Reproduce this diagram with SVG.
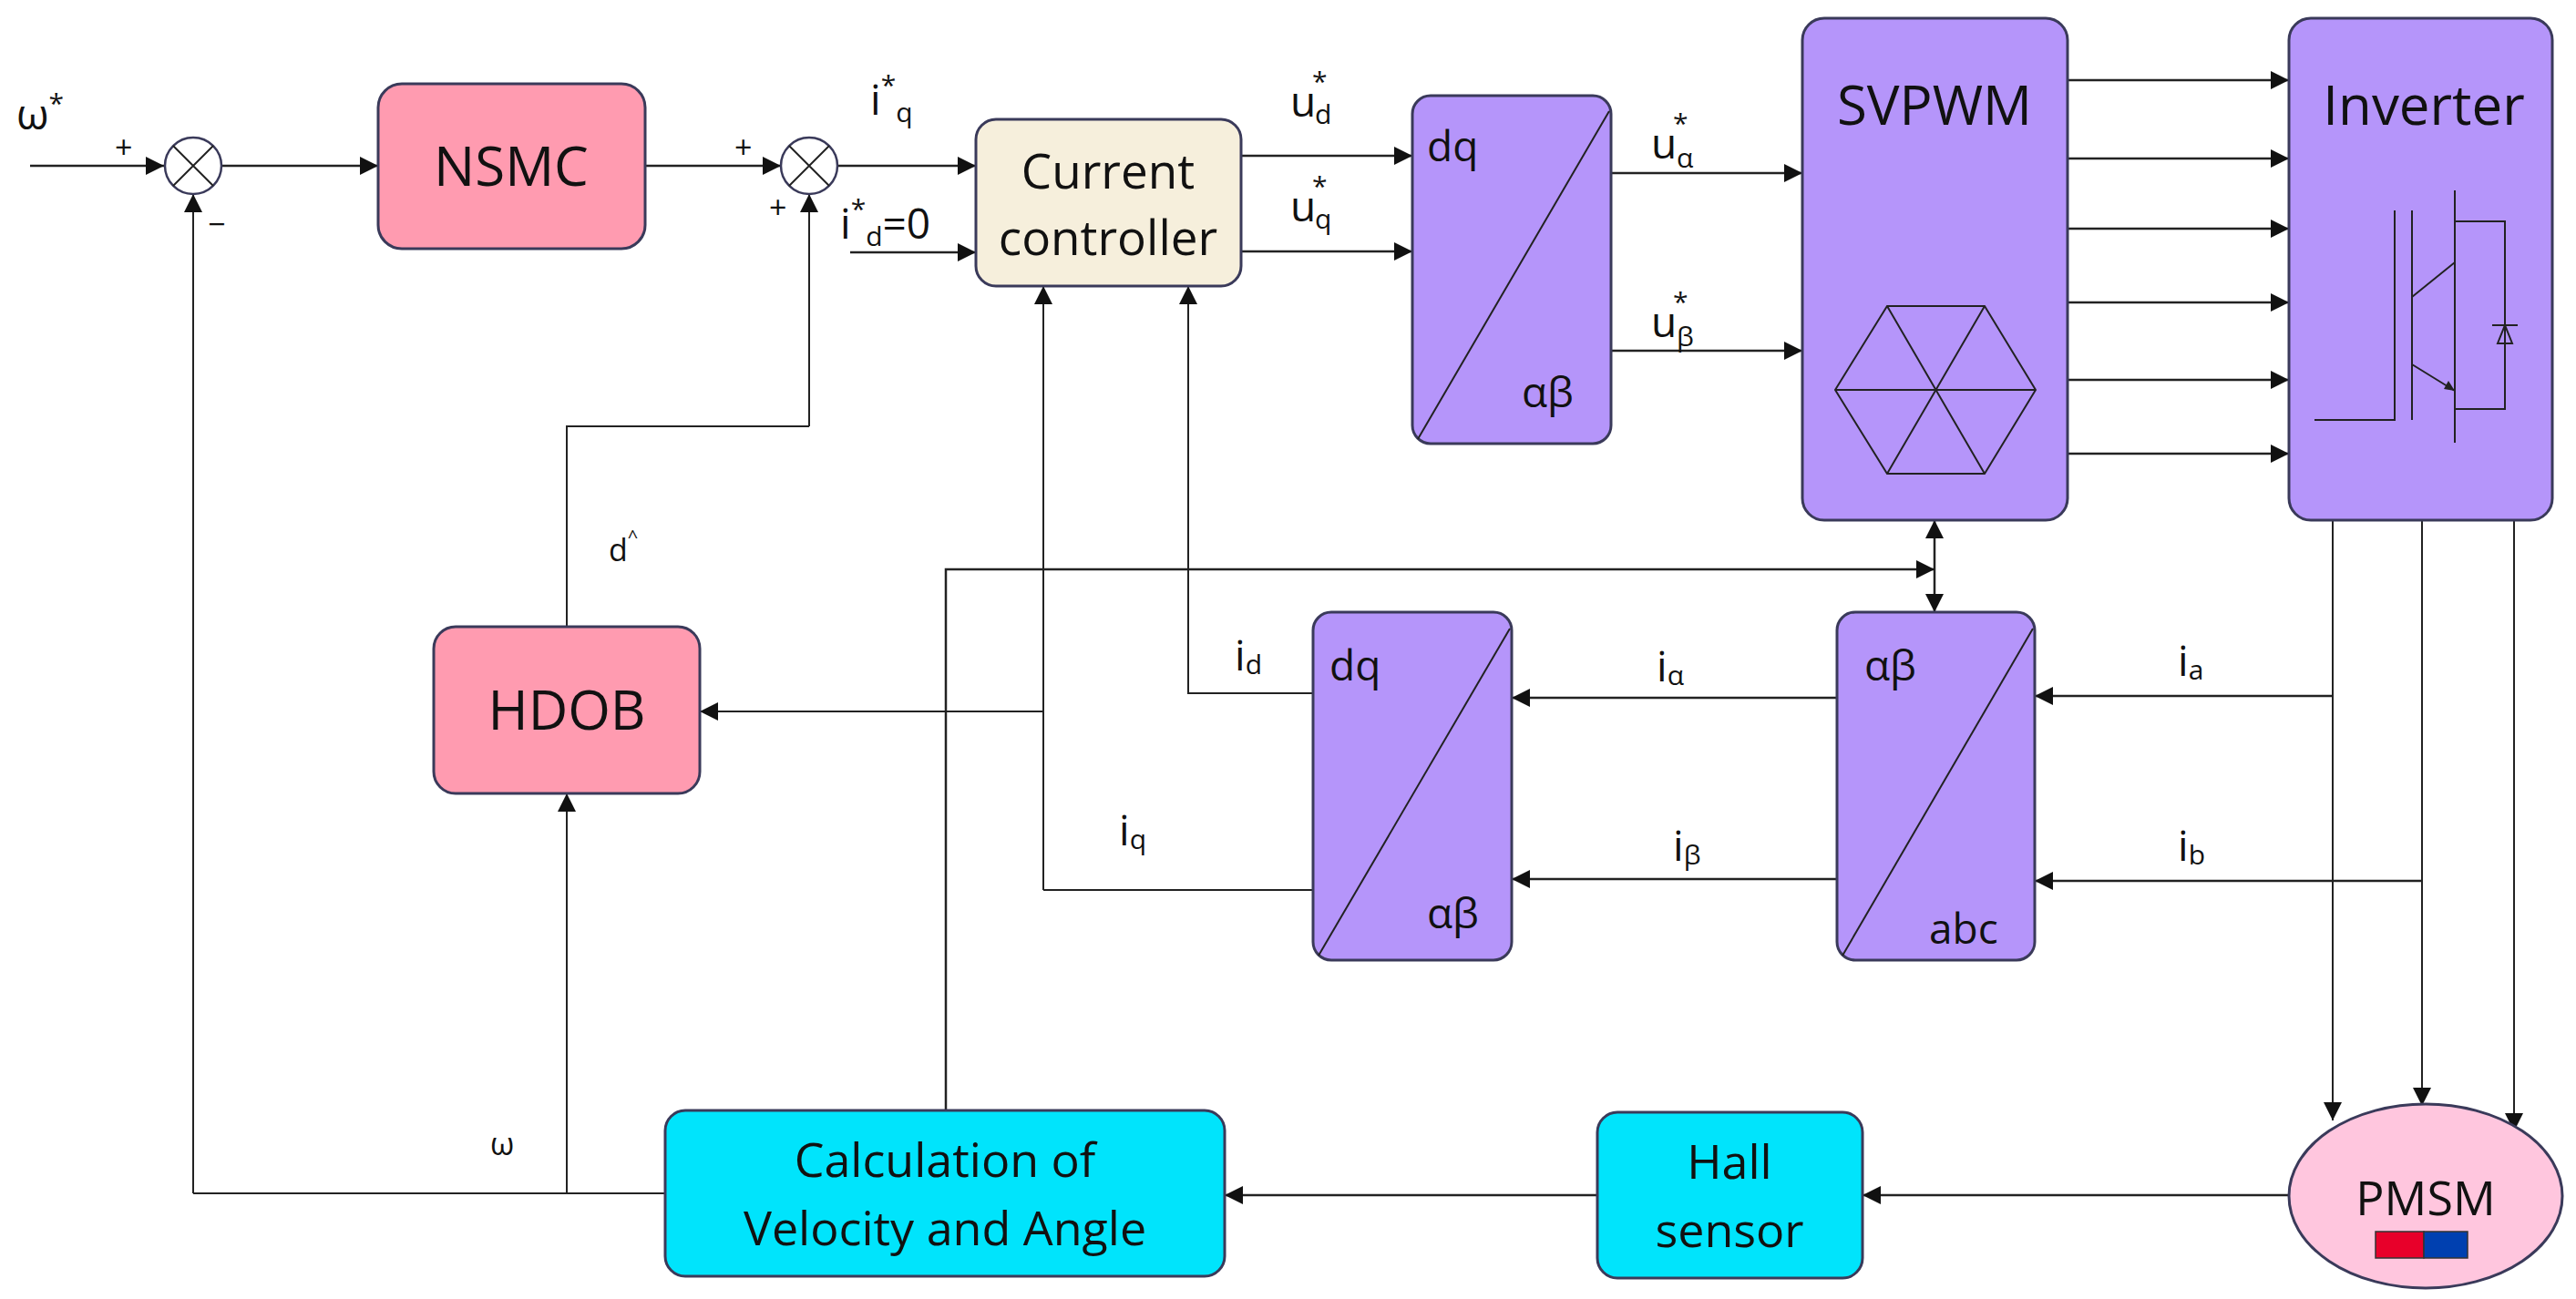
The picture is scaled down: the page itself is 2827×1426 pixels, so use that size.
<svg xmlns="http://www.w3.org/2000/svg" width="2827" height="1426" viewBox="0 0 2827 1426">
<style>
.box{stroke:#3a3a5a;stroke-width:3}
.pink{fill:#ff9bb0}.beige{fill:#f6efdc}.purple{fill:#b595fa}.cyan{fill:#00e4fc}
.ln{fill:none;stroke:#222;stroke-width:2.5}
.thin{fill:none;stroke:#222;stroke-width:2}
text{font-family:"Open Sans","Liberation Sans",sans-serif;fill:#111}
.big{font-size:60px;text-anchor:middle}
.cc{font-size:53px;text-anchor:middle}
.mid{font-size:52px;text-anchor:middle}
.lab{font-size:46px}
.sub{font-size:30px}
.sm{font-size:34px}
</style>
<defs>
<marker id="arL" viewBox="0 0 10 10" refX="10" refY="5" markerWidth="20" markerHeight="20" markerUnits="userSpaceOnUse" orient="auto"><path d="M0,0L10,5L0,10z" fill="#111"/></marker>
<marker id="arS" viewBox="0 0 10 10" refX="0" refY="5" markerWidth="20" markerHeight="20" markerUnits="userSpaceOnUse" orient="auto"><path d="M10,0L0,5L10,10z" fill="#111"/></marker>
</defs>

<g id="connectors">
<path class="ln" d="M33,182H180" marker-end="url(#arL)"/>
<path class="ln" d="M243,182H415" marker-end="url(#arL)"/>
<path class="ln" d="M708,182H857" marker-end="url(#arL)"/>
<path class="ln" d="M919,182H1071" marker-end="url(#arL)"/>
<path class="ln" d="M933,277H1071" marker-end="url(#arL)"/>
<path class="ln" d="M1362,171H1550" marker-end="url(#arL)"/>
<path class="ln" d="M1362,276H1550" marker-end="url(#arL)"/>
<path class="ln" d="M1768,190H1978" marker-end="url(#arL)"/>
<path class="ln" d="M1768,385H1978" marker-end="url(#arL)"/>
<path class="ln" d="M2269,88H2512" marker-end="url(#arL)"/>
<path class="ln" d="M2269,174H2512" marker-end="url(#arL)"/>
<path class="ln" d="M2269,251H2512" marker-end="url(#arL)"/>
<path class="ln" d="M2269,332H2512" marker-end="url(#arL)"/>
<path class="ln" d="M2269,417H2512" marker-end="url(#arL)"/>
<path class="ln" d="M2269,498H2512" marker-end="url(#arL)"/>
<path class="ln" d="M2123,571V672" marker-start="url(#arS)" marker-end="url(#arL)"/>
<path class="ln" d="M1038,1219V625H2123" marker-end="url(#arL)"/>
<path class="thin" d="M888,468V213" marker-end="url(#arL)"/>
<path class="thin" d="M622,690V468H888"/>
<path class="thin" d="M212,1310V213" marker-end="url(#arL)"/>
<path class="thin" d="M730,1310H212"/>
<path class="thin" d="M622,1310V871" marker-end="url(#arL)"/>
<path class="thin" d="M1145,977V314" marker-end="url(#arL)"/>
<path class="thin" d="M1441,977H1145"/>
<path class="thin" d="M1145,781H768" marker-end="url(#arL)"/>
<path class="thin" d="M1441,761H1304V314" marker-end="url(#arL)"/>
<path class="ln" d="M2016,766H1659" marker-end="url(#arL)"/>
<path class="ln" d="M2016,965H1659" marker-end="url(#arL)"/>
<path class="ln" d="M2560,764H2233" marker-end="url(#arL)"/>
<path class="ln" d="M2658,967H2233" marker-end="url(#arL)"/>
<path class="thin" d="M2560,571V1230" marker-end="url(#arL)"/>
<path class="thin" d="M2658,571V1214" marker-end="url(#arL)"/>
<path class="thin" d="M2759,571V1242" marker-end="url(#arL)"/>
<path class="ln" d="M2512,1312H2044" marker-end="url(#arL)"/>
<path class="ln" d="M1753,1312H1344" marker-end="url(#arL)"/>
</g>

<g id="labels">
<text x="18" y="142" class="lab">ω<tspan class="sub" dy="-18">*</tspan></text>
<text x="126" y="174" class="sm">+</text>
<text x="228" y="258" class="sm">−</text>
<text x="806" y="174" class="sm">+</text>
<text x="844" y="240" class="sm">+</text>
<text x="955" y="126" class="lab">i<tspan class="sub" dy="-22">*</tspan><tspan class="sub" dy="30">q</tspan></text>
<text x="922" y="262" class="lab">i<tspan class="sub" dy="-22">*</tspan><tspan class="sub" dy="30">d</tspan><tspan dy="-8">=0</tspan></text>
<text x="1416" y="128" class="lab">u</text><text x="1440" y="100" class="sub">*</text><text x="1443" y="136" class="sub">d</text>
<text x="1416" y="243" class="lab">u</text><text x="1440" y="215" class="sub">*</text><text x="1443" y="251" class="sub">q</text>
<text x="1812" y="174" class="lab">u</text><text x="1836" y="146" class="sub">*</text><text x="1840" y="184" class="sub">α</text>
<text x="1812" y="370" class="lab">u</text><text x="1836" y="342" class="sub">*</text><text x="1840" y="380" class="sub">β</text>
<text x="668" y="616" class="sm">d<tspan font-size="20" dy="-20">^</tspan></text>
<text x="538" y="1268" class="sm">ω</text>
<text x="1355" y="736" class="lab">i<tspan class="sub" dy="4">d</tspan></text>
<text x="1228" y="928" class="lab">i<tspan class="sub" dy="4">q</tspan></text>
<text x="1818" y="748" class="lab">i<tspan class="sub" dy="4">α</tspan></text>
<text x="1836" y="945" class="lab">i<tspan class="sub" dy="4">β</tspan></text>
<text x="2390" y="742" class="lab">i<tspan class="sub" dy="4">a</tspan></text>
<text x="2390" y="945" class="lab">i<tspan class="sub" dy="4">b</tspan></text>
</g>

<g id="sum1"><circle cx="212" cy="182" r="31" fill="#fff" stroke="#3a3a5a" stroke-width="2.5"/><path class="thin" d="M190,160L234,204M234,160L190,204"/></g>
<g id="sum2"><circle cx="888" cy="182" r="31" fill="#fff" stroke="#3a3a5a" stroke-width="2.5"/><path class="thin" d="M866,160L910,204M910,160L866,204"/></g>

<g id="nsmc"><rect class="box pink" x="415" y="92" width="293" height="181" rx="26"/><text x="561" y="204" class="big">NSMC</text></g>
<g id="current-controller"><rect class="box beige" x="1071" y="131" width="291" height="183" rx="22"/><text x="1216" y="207" class="cc">Current</text><text x="1216" y="280" class="cc">controller</text></g>
<g id="dq1"><rect class="box purple" x="1550" y="105" width="218" height="382" rx="20"/><path class="thin" d="M1556,482L1766,122"/><text x="1566" y="177" class="lab">dq</text><text x="1670" y="447" class="lab">αβ</text></g>
<g id="svpwm"><rect class="box purple" x="1978" y="20" width="291" height="551" rx="24"/><text x="2123" y="137" class="big">SVPWM</text>
<path class="thin" d="M2014,428L2071,336H2178L2234,428L2178,520H2071Z M2014,428H2234 M2071,336L2178,520 M2178,336L2071,520"/></g>
<g id="inverter"><rect class="box purple" x="2512" y="20" width="289" height="551" rx="24"/><text x="2660" y="137" class="big">Inverter</text>
<path class="thin" d="M2540,461H2628V231 M2647,231V461 M2694,209V486 M2694,243H2749V449H2694 M2647,326L2694,288 M2647,400L2694,429 M2735,357H2763 M2741,377H2757L2749,357Z"/>
<path d="M2694,429l-12,-2l5,-9z" fill="#222"/></g>
<g id="hdob"><rect class="box pink" x="476" y="688" width="292" height="183" rx="24"/><text x="622" y="801" class="big">HDOB</text></g>
<g id="dq2"><rect class="box purple" x="1441" y="672" width="218" height="382" rx="20"/><path class="thin" d="M1447,1049L1657,690"/><text x="1459" y="747" class="lab">dq</text><text x="1566" y="1019" class="lab">αβ</text></g>
<g id="abc"><rect class="box purple" x="2016" y="672" width="217" height="382" rx="20"/><path class="thin" d="M2022,1049L2231,690"/><text x="2046" y="747" class="lab">αβ</text><text x="2117" y="1036" class="lab">abc</text></g>
<g id="calc"><rect class="box cyan" x="730" y="1219" width="614" height="182" rx="22"/><text x="1037" y="1292" class="mid">Calculation of</text><text x="1037" y="1367" class="mid">Velocity and Angle</text></g>
<g id="hall"><rect class="box cyan" x="1753" y="1221" width="291" height="182" rx="22"/><text x="1898" y="1294" class="mid">Hall</text><text x="1898" y="1369" class="mid">sensor</text></g>
<g id="pmsm"><ellipse cx="2662" cy="1313" rx="150" ry="101" fill="#ffc6de" stroke="#3a3a5a" stroke-width="3"/><text x="2662" y="1334" class="mid">PMSM</text><rect x="2607" y="1352" width="53" height="29" fill="#e8002a" stroke="#333" stroke-width="1.5"/><rect x="2660" y="1352" width="48" height="29" fill="#0040b0" stroke="#333" stroke-width="1.5"/></g>
</svg>
